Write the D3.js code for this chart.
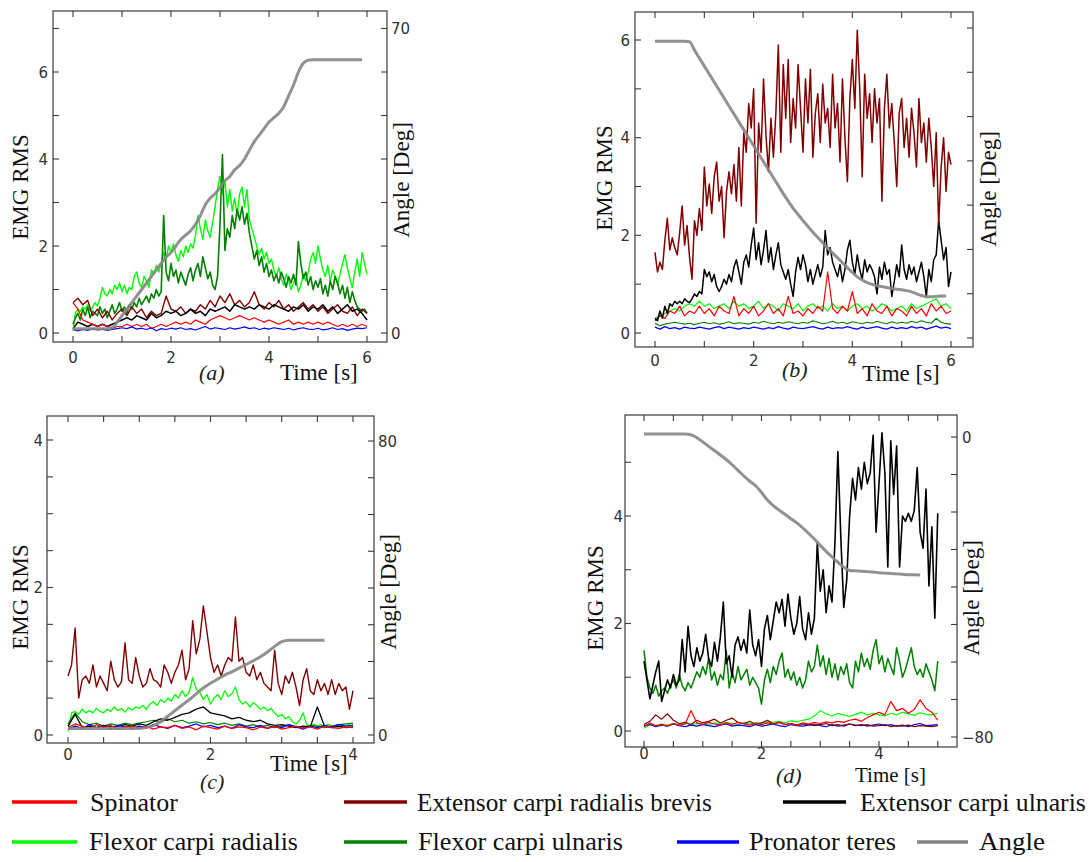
<!DOCTYPE html>
<html>
<head>
<meta charset="utf-8">
<script src="https://cdn.jsdelivr.net/npm/d3@7/dist/d3.min.js"></script>
<style>
  html, body { margin: 0; padding: 0; background: #fff; }
  svg { display: block; }
</style>
</head>
<body>
<svg id="chart" width="1091" height="862"></svg>
<script>
// Sampling intervals (seconds) of the RMS envelopes and of the joint angle
const fineStep = 0.05;
const coarseStep = 0.1;

// ---------- (a) ----------
const aFlexorRadialis = [
  0.05,0.45,0.55,0.50,0.60,0.55,0.65,0.50,0.60,0.70,
  0.62,0.80,1.05,0.90,0.85,1.00,0.90,1.10,1.00,1.15,
  0.95,1.10,0.90,1.05,1.00,1.30,1.40,1.15,1.05,1.30,
  1.20,1.05,1.45,1.35,1.55,1.40,1.60,1.85,1.70,2.00,
  1.85,2.05,1.80,1.65,1.90,1.75,2.00,1.85,2.05,1.95,
  2.25,2.70,2.40,2.15,2.60,2.35,2.20,2.55,2.90,3.30,
  3.60,3.20,3.50,2.90,3.30,2.80,3.10,2.70,3.20,3.35,
  2.90,3.30,2.60,2.40,2.20,2.00,1.80,1.95,1.70,1.85,
  1.60,1.70,1.45,1.30,1.50,1.25,1.10,1.35,1.20,1.00,
  1.15,1.25,0.95,1.10,1.35,1.20,1.40,1.70,1.85,1.60,
  2.00,1.70,1.45,1.30,1.55,1.20,1.45,1.30,1.10,1.35,
  1.60,1.80,1.50,1.25,1.05,1.40,1.70,1.30,1.85,1.60,
  1.35];
const aFlexorUlnaris = [
  0.20,0.35,0.45,0.30,0.55,0.40,0.60,0.35,0.50,0.45,
  0.40,0.60,0.45,0.55,0.35,0.50,0.65,0.45,0.55,0.70,
  0.50,0.60,0.45,0.65,0.55,0.70,0.60,0.80,0.65,0.75,
  0.85,0.70,0.90,0.80,1.00,0.85,0.95,2.70,1.40,1.20,
  1.60,1.30,1.45,1.15,1.40,1.25,1.10,1.35,1.50,1.20,
  1.45,1.60,1.30,1.75,1.50,1.25,1.40,1.10,1.00,1.30,
  2.50,4.10,1.90,2.40,2.20,2.70,2.40,2.85,2.60,2.90,
  2.50,2.75,2.30,2.00,1.70,1.90,1.55,1.75,1.40,1.60,
  1.30,1.45,1.20,1.35,1.15,1.40,1.25,1.05,1.30,1.15,
  1.35,1.10,2.10,1.60,1.25,1.40,1.10,1.30,1.00,1.20,
  1.05,1.25,0.90,1.10,0.85,1.20,1.00,1.30,1.15,0.90,
  1.10,0.80,1.05,0.70,0.95,0.75,0.60,0.55,0.50,0.55,
  0.45];
const aExtensorRadialis = [
  0.70,0.80,0.65,0.75,0.40,0.55,0.35,0.50,0.30,0.45,
  0.55,0.40,0.60,0.45,0.55,0.35,0.50,0.40,0.45,0.85,
  0.55,0.50,0.60,0.45,0.55,0.50,0.65,0.55,0.75,0.60,
  0.85,0.70,0.90,0.65,0.75,0.60,0.70,0.95,0.65,0.55,
  0.70,0.60,0.75,0.55,0.65,0.50,0.60,0.70,0.55,0.65,
  0.50,0.60,0.45,0.55,0.65,0.50,0.45,0.60,0.40,0.55,
  0.45];
const aExtensorUlnaris = [
  0.10,0.25,0.20,0.15,0.20,0.15,0.20,0.15,0.20,0.25,
  0.30,0.35,0.30,0.40,0.35,0.30,0.45,0.35,0.40,0.50,
  0.45,0.50,0.40,0.45,0.55,0.45,0.50,0.40,0.55,0.50,
  0.55,0.60,0.50,0.65,0.60,0.55,0.60,0.55,0.65,0.60,
  0.55,0.65,0.60,0.55,0.50,0.60,0.55,0.65,0.50,0.60,
  0.55,0.65,0.50,0.60,0.45,0.55,0.65,0.50,0.55,0.45,
  0.30];
const aSpinator = [
  0.70,0.55,0.30,0.25,0.20,0.15,0.20,0.15,0.10,0.15,
  0.15,0.20,0.15,0.20,0.15,0.20,0.10,0.15,0.20,0.15,
  0.20,0.25,0.20,0.25,0.20,0.30,0.25,0.20,0.30,0.35,
  0.40,0.35,0.30,0.35,0.40,0.35,0.30,0.35,0.30,0.25,
  0.30,0.25,0.20,0.25,0.30,0.20,0.25,0.20,0.25,0.20,
  0.25,0.20,0.25,0.20,0.15,0.20,0.15,0.20,0.15,0.20,
  0.15];
const aPronator = [
  0.08,0.05,0.08,0.06,0.10,0.07,0.09,0.06,0.08,0.10,
  0.12,0.10,0.14,0.09,0.11,0.08,0.12,0.05,0.10,0.08,
  0.11,0.09,0.12,0.08,0.10,0.07,0.11,0.15,0.09,0.12,
  0.10,0.08,0.12,0.09,0.11,0.14,0.10,0.12,0.08,0.11,
  0.09,0.12,0.10,0.08,0.11,0.07,0.10,0.12,0.09,0.08,
  0.11,0.07,0.09,0.12,0.08,0.10,0.06,0.09,0.11,0.10,
  0.12];
const aAngle = [
  1,1,1,1,1,1,1,1,1.2,2.5,
  4,5.5,7,8.5,10,11.5,13,14.5,16,17.5,
  18.5,20,21.5,22.5,23.5,25,27,29.5,31,32,
  33.5,35,36,37.5,38.5,40,42,44,45.5,47,
  48.5,49.5,50.5,52,54.5,57,60,62,62.7,62.8,
  62.8,62.8,62.8,62.8,62.8,62.8,62.8,62.8,62.8,62.8];

// ---------- (b) ----------
const bExtensorRadialis = [
  1.65,1.25,1.45,1.30,1.90,2.35,1.70,1.95,1.75,1.60,
  2.05,2.60,1.80,2.20,1.55,1.10,2.30,2.00,2.55,2.10,
  3.40,2.60,3.05,2.45,3.20,3.50,2.70,3.00,1.95,2.90,
  3.30,2.85,3.45,2.70,3.80,2.60,4.10,3.70,4.70,4.20,
  5.00,2.25,4.30,3.70,5.20,4.05,3.30,4.40,3.60,4.50,
  5.90,3.70,5.50,4.40,5.60,3.90,4.80,4.20,5.50,4.60,
  3.70,5.20,4.30,5.40,3.60,4.50,4.90,3.90,5.10,4.30,
  4.60,3.80,5.30,4.20,4.70,3.50,5.20,4.00,3.10,4.80,
  5.60,4.60,6.20,5.00,3.20,5.30,4.40,4.90,3.90,5.00,
  4.30,4.80,2.70,4.60,5.30,4.20,4.70,3.90,3.00,4.50,
  4.80,3.80,4.40,3.60,4.60,4.10,3.40,4.80,3.90,4.30,
  3.50,4.40,3.80,3.00,4.10,2.20,3.40,4.00,2.90,3.70,
  3.45];
const bExtensorUlnaris = [
  0.30,0.25,0.45,0.30,0.55,0.40,0.60,0.55,0.65,0.60,
  0.65,0.60,0.70,0.65,0.62,0.70,0.80,0.75,0.85,0.80,
  1.30,1.15,1.25,1.05,1.20,0.95,0.85,0.95,1.10,1.00,
  1.20,1.05,1.35,1.50,1.25,1.00,1.45,1.60,1.35,1.80,
  2.15,1.50,1.85,1.40,1.70,2.10,1.45,1.75,1.30,1.60,
  1.85,1.40,1.25,1.10,1.30,1.00,0.75,1.25,1.55,1.30,
  1.60,1.40,1.05,1.30,1.00,1.20,1.40,1.15,1.35,2.10,
  1.60,1.75,1.45,1.30,1.15,1.40,1.05,1.30,1.70,1.90,
  1.45,1.20,1.60,1.30,1.10,1.50,1.25,1.40,1.30,1.15,
  0.80,1.35,1.10,1.45,1.20,1.30,0.75,1.05,1.40,1.15,
  1.80,1.30,1.10,1.40,1.20,1.35,1.05,1.25,1.45,1.15,
  0.75,1.30,1.05,1.50,1.60,2.30,1.90,1.50,1.75,0.95,
  1.25];
const bSpinator = [
  0.25,0.35,0.30,0.45,0.40,0.55,0.35,0.45,0.40,0.55,
  0.40,0.50,0.35,0.55,0.45,0.40,0.75,0.35,0.50,0.40,
  0.55,0.35,0.45,0.60,0.40,0.50,0.35,0.75,0.40,0.45,
  0.35,0.50,0.40,0.55,0.45,1.25,0.50,0.40,0.55,0.45,
  0.85,0.40,0.50,0.35,0.60,0.45,0.40,0.55,0.35,0.50,
  0.45,0.35,0.55,0.40,0.50,0.35,0.60,0.45,0.55,0.40,
  0.45];
const bFlexorRadialis = [
  0.30,0.35,0.40,0.45,0.50,0.45,0.55,0.60,0.55,0.65,
  0.55,0.60,0.50,0.55,0.60,0.50,0.65,0.55,0.60,0.50,
  0.55,0.65,0.50,0.60,0.55,0.45,0.60,0.55,0.50,0.60,
  0.45,0.55,0.60,0.50,0.55,0.45,0.60,0.50,0.55,0.45,
  0.55,0.60,0.50,0.55,0.45,0.50,0.60,0.55,0.45,0.50,
  0.55,0.45,0.60,0.50,0.55,0.60,0.65,0.70,0.55,0.60,
  0.50];
const bFlexorUlnaris = [
  0.20,0.15,0.18,0.20,0.22,0.20,0.18,0.20,0.17,0.20,
  0.22,0.19,0.21,0.18,0.20,0.23,0.19,0.21,0.20,0.18,
  0.22,0.20,0.24,0.21,0.19,0.22,0.20,0.23,0.21,0.19,
  0.22,0.20,0.25,0.22,0.19,0.21,0.24,0.20,0.22,0.19,
  0.23,0.21,0.19,0.22,0.20,0.24,0.21,0.19,0.23,0.20,
  0.22,0.20,0.24,0.21,0.25,0.22,0.20,0.30,0.22,0.19,
  0.18];
const bPronator = [
  0.12,0.08,0.13,0.09,0.11,0.08,0.12,0.10,0.09,0.12,
  0.10,0.08,0.11,0.13,0.09,0.12,0.10,0.08,0.11,0.09,
  0.12,0.10,0.08,0.11,0.09,0.13,0.10,0.08,0.12,0.10,
  0.09,0.11,0.13,0.10,0.08,0.12,0.09,0.11,0.10,0.13,
  0.10,0.08,0.12,0.09,0.11,0.13,0.10,0.08,0.12,0.09,
  0.11,0.09,0.13,0.10,0.12,0.08,0.11,0.14,0.10,0.12,
  0.09];
const bAngle = [
  67,67,67,67,67,67,67,66.9,65,63.2,
  61.4,59.6,57.8,56,54.2,52.4,50.6,48.8,47,45.2,
  43.4,41.6,39.8,38,36.2,34.4,32.6,30.9,29.3,27.9,
  26.5,25.2,23.9,22.7,21.5,20.3,19.2,18.1,17,15.9,
  14.8,13.8,13.1,12.5,12.1,11.8,11.6,11.4,11.2,11,
  10.9,10.7,10.4,10,9.6,9.3,9.3,9.4,9.5,9.5];

// ---------- (c) ----------
const cExtensorRadialis = [
  0.80,0.95,1.45,0.50,0.75,0.80,0.70,0.95,0.65,0.80,
  0.70,0.60,1.00,0.75,0.65,0.72,1.25,0.75,0.70,1.05,
  0.80,0.65,0.70,0.90,0.75,0.72,0.65,0.95,0.85,0.70,
  0.85,0.95,1.15,0.75,0.90,1.55,1.10,1.30,1.75,1.40,
  1.05,0.85,0.95,0.80,0.95,1.05,1.00,1.60,1.00,1.05,
  0.85,0.80,0.95,0.75,0.85,0.70,0.65,0.60,1.15,0.70,
  0.55,0.80,0.70,0.85,0.65,0.40,0.75,0.90,0.60,0.55,
  0.75,0.60,0.70,0.55,0.75,0.55,0.70,0.60,0.65,0.35,
  0.60];
const cFlexorRadialis = [
  0.05,0.30,0.32,0.28,0.35,0.30,0.33,0.30,0.36,0.32,
  0.30,0.35,0.32,0.38,0.33,0.36,0.31,0.37,0.34,0.38,
  0.36,0.40,0.35,0.42,0.45,0.40,0.48,0.44,0.50,0.46,
  0.55,0.50,0.60,0.52,0.58,0.78,0.62,0.58,0.48,0.55,
  0.42,0.50,0.55,0.48,0.60,0.52,0.56,0.65,0.48,0.42,
  0.45,0.38,0.44,0.40,0.35,0.38,0.33,0.36,0.30,0.25,
  0.28,0.22,0.25,0.18,0.15,0.20,0.30,0.14,0.12,0.15,
  0.12,0.14,0.11,0.15,0.12,0.13,0.10,0.14,0.12,0.15,
  0.15];
const cExtensorUlnaris = [
  0.12,0.28,0.10,0.12,0.10,0.13,0.11,0.12,0.14,0.12,
  0.15,0.13,0.18,0.22,0.20,0.24,0.28,0.30,0.35,0.38,
  0.30,0.28,0.26,0.22,0.24,0.20,0.18,0.20,0.15,0.13,
  0.14,0.12,0.10,0.12,0.11,0.38,0.12,0.10,0.12,0.10,
  0.11];
const cFlexorUlnaris = [
  0.15,0.30,0.18,0.14,0.16,0.12,0.15,0.13,0.16,0.14,
  0.16,0.18,0.20,0.17,0.22,0.18,0.20,0.16,0.18,0.15,
  0.17,0.14,0.16,0.13,0.15,0.12,0.14,0.11,0.13,0.10,
  0.12,0.14,0.11,0.10,0.13,0.12,0.10,0.12,0.14,0.15,
  0.16];
const cSpinator = [
  0.10,0.15,0.12,0.09,0.14,0.10,0.13,0.08,0.11,0.12,
  0.09,0.12,0.08,0.11,0.10,0.13,0.09,0.11,0.07,0.12,
  0.10,0.08,0.12,0.09,0.11,0.10,0.07,0.11,0.09,0.12,
  0.08,0.10,0.12,0.09,0.11,0.08,0.12,0.10,0.09,0.11,
  0.10];
const cPronator = [
  0.08,0.12,0.09,0.14,0.10,0.12,0.08,0.13,0.11,0.09,
  0.12,0.10,0.14,0.11,0.09,0.13,0.10,0.12,0.15,0.11,
  0.13,0.10,0.12,0.09,0.14,0.11,0.10,0.13,0.09,0.12,
  0.10,0.14,0.11,0.08,0.12,0.10,0.13,0.11,0.14,0.12,
  0.13];
const cAngle = [
  1.8,1.8,1.8,1.8,1.8,1.8,1.8,1.8,1.8,1.8,
  1.8,2.0,2.6,3.7,5.1,6.6,8.1,9.6,11.2,12.8,
  14.1,15.2,16.3,17.2,18.2,19.2,20.2,21.3,22.6,24.1,
  25.4,25.8,25.8,25.8,25.8,25.8,25.8];

// ---------- (d) ----------
const dExtensorUlnaris = [
  1.30,0.95,0.60,0.85,1.10,1.30,0.55,0.75,0.95,0.80,
  1.05,0.85,0.95,1.70,1.10,1.95,1.40,1.20,1.55,1.30,
  1.45,1.80,1.35,1.20,1.65,1.30,1.75,2.40,1.25,1.40,
  1.00,1.60,1.75,1.50,1.70,1.45,2.25,1.60,1.40,1.70,
  1.20,1.90,2.15,1.70,2.05,2.40,2.20,2.45,1.95,2.55,
  2.10,1.80,2.00,2.50,1.90,1.70,2.20,1.80,2.10,3.50,
  2.60,3.00,2.20,2.70,2.40,3.50,5.20,3.60,2.30,2.80,
  4.00,4.70,4.30,4.90,4.50,5.00,4.60,4.80,5.50,3.70,
  4.60,5.55,4.80,3.05,5.40,4.40,5.30,3.05,4.00,3.90,
  4.05,3.90,4.10,4.90,3.70,3.40,4.50,2.70,3.80,2.10,
  4.05];
const dFlexorUlnaris = [
  1.50,1.00,0.80,0.70,0.85,0.65,0.75,0.80,0.70,0.85,
  0.95,0.80,1.05,0.85,0.75,0.90,0.80,0.95,1.10,1.00,
  1.20,1.05,1.35,0.95,1.10,0.85,1.05,0.95,1.50,0.80,
  1.10,0.90,1.20,0.95,1.05,1.15,0.85,1.00,0.90,0.80,
  0.50,0.95,1.15,0.90,1.20,1.05,1.30,1.45,1.00,1.15,
  0.95,1.10,0.85,1.00,0.80,0.95,1.30,1.10,1.20,1.60,
  1.20,1.40,1.05,1.35,1.00,1.25,0.95,1.20,1.05,1.25,
  0.90,0.80,1.30,1.10,1.45,1.20,1.35,1.15,1.50,1.70,
  1.25,1.40,1.10,1.35,1.20,1.05,1.55,1.30,1.00,1.15,
  1.35,1.55,1.20,1.05,1.15,1.00,1.25,1.10,0.95,0.75,
  1.30];
const dFlexorRadialis = [
  0.05,0.12,0.10,0.13,0.11,0.14,0.12,0.15,0.12,0.14,
  0.13,0.12,0.15,0.13,0.16,0.14,0.12,0.15,0.13,0.16,
  0.14,0.17,0.16,0.18,0.15,0.19,0.17,0.20,0.22,0.28,
  0.38,0.32,0.28,0.33,0.30,0.27,0.31,0.35,0.30,0.33,
  0.30,0.28,0.33,0.30,0.35,0.32,0.29,0.34,0.31,0.30,
  0.33];
const dSpinator = [
  0.08,0.15,0.10,0.12,0.09,0.14,0.11,0.13,0.38,0.15,
  0.12,0.16,0.13,0.11,0.15,0.12,0.16,0.13,0.11,0.14,
  0.12,0.15,0.13,0.16,0.12,0.14,0.11,0.15,0.13,0.16,
  0.14,0.17,0.15,0.18,0.16,0.20,0.22,0.18,0.25,0.30,
  0.35,0.30,0.55,0.38,0.42,0.33,0.40,0.58,0.42,0.35,
  0.20];
const dExtensorRadialis = [
  0.12,0.18,0.30,0.22,0.32,0.20,0.14,0.16,0.12,0.20,
  0.15,0.18,0.22,0.15,0.20,0.24,0.16,0.14,0.18,0.12,
  0.15,0.20,0.13,0.16,0.12,0.14,0.11,0.13,0.12,0.10,
  0.12,0.14,0.10,0.12,0.09,0.13,0.11,0.10,0.12,0.09,
  0.10,0.12,0.08,0.10,0.09,0.11,0.08,0.10,0.09,0.08,
  0.10];
const dPronator = [
  0.10,0.12,0.08,0.11,0.09,0.13,0.10,0.08,0.11,0.09,
  0.12,0.10,0.08,0.11,0.13,0.09,0.11,0.10,0.08,0.12,
  0.09,0.11,0.13,0.10,0.08,0.12,0.10,0.09,0.11,0.13,
  0.10,0.08,0.12,0.09,0.11,0.13,0.10,0.12,0.09,0.11,
  0.13,0.10,0.12,0.09,0.11,0.08,0.12,0.14,0.10,0.11,
  0.12];
const dAngle = [
  0.8,0.8,0.8,0.8,0.8,0.8,0.8,0.8,0.6,-0.2,
  -1.3,-2.5,-3.6,-4.8,-6.0,-7.4,-8.9,-10.4,-11.8,-13.0,
  -14.8,-16.8,-18.3,-19.5,-20.6,-21.8,-22.9,-24.2,-25.7,-27.2,
  -28.9,-30.5,-32.0,-33.4,-34.7,-35.6,-35.7,-35.8,-35.9,-36.0,
  -36.2,-36.3,-36.4,-36.5,-36.6,-36.7,-36.7,-36.8];

// Legend
const muscleNames = {
  spinator: "Spinator",
  ecrb: "Extensor carpi radialis brevis",
  ecu: "Extensor carpi ulnaris",
  fcr: "Flexor carpi radialis",
  fcu: "Flexor carpi ulnaris",
  pt: "Pronator teres",
  angle: "Angle"
};
const colors = {
  spinator: "#ff0000",
  ecrb: "#800000",
  ecu: "#000000",
  fcr: "#00ff00",
  fcu: "#008000",
  pt: "#0000ff",
  angle: "#858585"
};

const panelLetters = ["(a)", "(b)", "(c)", "(d)"];

// ---------- helpers ----------
const svg = d3.select("#chart");
const sans = "'DejaVu Sans', Verdana, sans-serif";
const serif = "'Liberation Serif', 'Times New Roman', serif";

function series(values, step) {
  return values.map((v, i) => ({ t: i * step, v }));
}

// soft edge for the angle curve
const defs = svg.append("defs");
defs.append("filter").attr("id", "soft").attr("x", "-5%").attr("y", "-5%")
  .attr("width", "110%").attr("height", "110%")
  .append("feGaussianBlur").attr("stdDeviation", 0.5);

function drawPanel(p, idx) {
  const g = svg.append("g");
  const x = d3.scaleLinear().domain(p.xDomain).range(p.xRange);
  const y = d3.scaleLinear().domain(p.yDomain).range(p.yRange);
  const ya = d3.scaleLinear().domain(p.aDomain).range(p.aRange);
  const f = p.frame;

  const clipId = "clip" + idx;
  defs.append("clipPath").attr("id", clipId)
    .append("rect").attr("x", f.x0).attr("y", f.y0)
    .attr("width", f.x1 - f.x0).attr("height", f.y1 - f.y0);

  const plot = g.append("g").attr("clip-path", `url(#${clipId})`);
  const emgLine = d3.line().x(d => x(d.t)).y(d => y(d.v));
  p.traces.forEach(tr => {
    plot.append("path")
      .datum(series(tr.values, tr.step))
      .attr("d", emgLine)
      .attr("fill", "none")
      .attr("stroke", colors[tr.key])
      .attr("stroke-width", tr.width)
      .attr("stroke-linejoin", "round");
  });
  const angLine = d3.line().x(d => x(d.t)).y(d => ya(d.v)).curve(d3.curveMonotoneX);
  plot.append("path")
    .datum(series(p.angle, coarseStep))
    .attr("d", angLine)
    .attr("fill", "none")
    .attr("stroke", colors.angle)
    .attr("stroke-width", 3)
    .attr("stroke-opacity", 0.9)
    .attr("filter", "url(#soft)");

  // frame
  g.append("rect").attr("x", f.x0).attr("y", f.y0)
    .attr("width", f.x1 - f.x0).attr("height", f.y1 - f.y0)
    .attr("fill", "none").attr("stroke", "#3a3a3a").attr("stroke-width", 1.2);

  const tl = 6;
  const tick = (x1, y1, x2, y2) => g.append("line")
    .attr("x1", x1).attr("y1", y1).attr("x2", x2).attr("y2", y2)
    .attr("stroke", "#3a3a3a").attr("stroke-width", 1.1);

  p.xTicks.forEach(t => { tick(x(t), f.y1, x(t), f.y1 - tl); tick(x(t), f.y0, x(t), f.y0 + tl); });
  p.yTicks.forEach(t => tick(f.x0, y(t), f.x0 + tl, y(t)));
  p.aTicks.forEach(t => tick(f.x1, ya(t), f.x1 - tl, ya(t)));

  const lab = (txt, px, py, anchor) => g.append("text")
    .attr("x", px).attr("y", py).attr("text-anchor", anchor)
    .attr("font-family", sans).attr("font-size", 15).attr("fill", "#333")
    .text(txt);
  p.xLabels.forEach(t => lab(d3.format("d")(t), x(t), p.xLabelY, "middle"));
  p.yLabels.forEach(t => lab(d3.format("d")(t), p.yLabelX, y(t) + 5.5, "end"));
  p.aLabels.forEach(t => lab(d3.format("d")(t), p.aLabelX, ya(t) + 5.5, "start"));

  const title = (txt, px, py) => g.append("text")
    .attr("transform", `translate(${px},${py}) rotate(-90)`)
    .attr("text-anchor", "middle")
    .attr("font-family", serif).attr("font-size", 23).attr("fill", "#111")
    .text(txt);
  title("EMG RMS", p.emgTitle[0], p.emgTitle[1]);
  title("Angle [Deg]", p.angTitle[0], p.angTitle[1]);

  g.append("text").attr("x", p.timeTitle[0]).attr("y", p.timeTitle[1])
    .attr("font-family", serif).attr("font-size", p.timeSize).attr("fill", "#111")
    .text("Time [s]");
  g.append("text").attr("x", p.letterPos[0]).attr("y", p.letterPos[1])
    .attr("font-family", serif).attr("font-style", "italic")
    .attr("font-size", 22).attr("fill", "#222")
    .text(panelLetters[idx]);
}

const range = (a, b, s) => d3.range(a, b + s / 2, s);

const panels = [
  {
    frame: { x0: 53, x1: 387, y0: 11, y1: 342 },
    xDomain: [0, 6], xRange: [73, 367],
    yDomain: [0, 6], yRange: [333, 72],
    aDomain: [0, 70], aRange: [333, 28.5],
    xTicks: range(0, 6, 1), yTicks: range(0, 7, 1), aTicks: range(0, 70, 10),
    xLabels: [0, 2, 4, 6], yLabels: [0, 2, 4, 6], aLabels: [0, 70],
    xLabelY: 363, yLabelX: 48, aLabelX: 391,
    emgTitle: [28, 187], angTitle: [409, 180], timeTitle: [280, 380], timeSize: 23, letterPos: [199, 380],
    traces: [
      { key: "fcr", values: aFlexorRadialis, step: fineStep, width: 1.4 },
      { key: "fcu", values: aFlexorUlnaris, step: fineStep, width: 1.6 },
      { key: "ecrb", values: aExtensorRadialis, step: coarseStep, width: 1.4 },
      { key: "ecu", values: aExtensorUlnaris, step: coarseStep, width: 1.5 },
      { key: "spinator", values: aSpinator, step: coarseStep, width: 1.2 },
      { key: "pt", values: aPronator, step: coarseStep, width: 1.2 }
    ],
    angle: aAngle
  },
  {
    frame: { x0: 635, x1: 973, y0: 12, y1: 347 },
    xDomain: [0, 6], xRange: [655, 951],
    yDomain: [0, 6], yRange: [333, 40],
    aDomain: [0, 70], aRange: [338, 28],
    xTicks: range(0, 6, 1), yTicks: range(0, 6, 1), aTicks: range(0, 70, 10),
    xLabels: [0, 2, 4, 6], yLabels: [0, 2, 4, 6], aLabels: [],
    xLabelY: 366, yLabelX: 630, aLabelX: 977,
    emgTitle: [612, 178], angTitle: [996, 189], timeTitle: [862, 381], timeSize: 23, letterPos: [782, 377],
    traces: [
      { key: "fcu", values: bFlexorUlnaris, step: coarseStep, width: 1.2 },
      { key: "fcr", values: bFlexorRadialis, step: coarseStep, width: 1.2 },
      { key: "spinator", values: bSpinator, step: coarseStep, width: 1.2 },
      { key: "pt", values: bPronator, step: coarseStep, width: 1.2 },
      { key: "ecu", values: bExtensorUlnaris, step: fineStep, width: 1.5 },
      { key: "ecrb", values: bExtensorRadialis, step: fineStep, width: 1.5 }
    ],
    angle: bAngle
  },
  {
    frame: { x0: 47, x1: 374, y0: 416, y1: 743 },
    xDomain: [0, 4], xRange: [68, 353],
    yDomain: [0, 4], yRange: [735, 440],
    aDomain: [0, 80], aRange: [735, 441],
    xTicks: range(0, 4, 0.5), yTicks: range(0, 4, 0.5), aTicks: range(0, 80, 10),
    xLabels: [0, 2, 4], yLabels: [0, 2, 4], aLabels: [0, 80],
    xLabelY: 760, yLabelX: 43, aLabelX: 378,
    emgTitle: [28, 597], angTitle: [396, 592], timeTitle: [270, 771], timeSize: 23, letterPos: [200, 789],
    traces: [
      { key: "fcr", values: cFlexorRadialis, step: fineStep, width: 1.3 },
      { key: "fcu", values: cFlexorUlnaris, step: coarseStep, width: 1.2 },
      { key: "ecu", values: cExtensorUlnaris, step: coarseStep, width: 1.3 },
      { key: "pt", values: cPronator, step: coarseStep, width: 1.2 },
      { key: "spinator", values: cSpinator, step: coarseStep, width: 1.2 },
      { key: "ecrb", values: cExtensorRadialis, step: fineStep, width: 1.4 }
    ],
    angle: cAngle
  },
  {
    frame: { x0: 625, x1: 957, y0: 415, y1: 747 },
    xDomain: [0, 4], xRange: [644, 879],
    yDomain: [0, 4], yRange: [731, 516],
    aDomain: [-80, 0], aRange: [737, 437],
    xTicks: range(0, 5, 0.5), yTicks: range(0, 5, 1), aTicks: range(-80, 0, 10),
    xLabels: [0, 2, 4], yLabels: [0, 2, 4], aLabels: [0, -80],
    xLabelY: 759, yLabelX: 623, aLabelX: 962,
    emgTitle: [603, 598], angTitle: [979, 598], timeTitle: [855, 782.3], timeSize: 21, letterPos: [776, 783],
    traces: [
      { key: "fcu", values: dFlexorUlnaris, step: fineStep, width: 1.5 },
      { key: "ecu", values: dExtensorUlnaris, step: fineStep, width: 1.6 },
      { key: "fcr", values: dFlexorRadialis, step: coarseStep, width: 1.2 },
      { key: "pt", values: dPronator, step: coarseStep, width: 1.2 },
      { key: "ecrb", values: dExtensorRadialis, step: coarseStep, width: 1.2 },
      { key: "spinator", values: dSpinator, step: coarseStep, width: 1.2 }
    ],
    angle: dAngle
  }
];

panels.forEach(drawPanel);

// ---------- legend ----------
// Text is drawn at its natural size, then squeezed horizontally to its slot width.
const legendItems = [
  { key: "spinator", x1: 12, x2: 77, ly: 802, tx: 90, ty: 811, w: 88 },
  { key: "ecrb", x1: 344, x2: 407, ly: 802, tx: 417, ty: 811, w: 295 },
  { key: "ecu", x1: 783, x2: 846, ly: 802, tx: 860, ty: 811, w: 226 },
  { key: "fcr", x1: 12, x2: 77, ly: 842, tx: 89, ty: 850, w: 209 },
  { key: "fcu", x1: 344, x2: 407, ly: 842, tx: 418, ty: 850, w: 205 },
  { key: "pt", x1: 677, x2: 739, ly: 842, tx: 749, ty: 850, w: 147 },
  { key: "angle", x1: 917, x2: 968, ly: 842, tx: 979, ty: 850, w: 66 }
];
const leg = svg.append("g");
legendItems.forEach(it => {
  leg.append("line").attr("x1", it.x1).attr("x2", it.x2)
    .attr("y1", it.ly).attr("y2", it.ly)
    .attr("stroke", colors[it.key]).attr("stroke-width", 3.5);
  const txt = leg.append("text").attr("x", 0).attr("y", 0)
    .attr("font-family", serif).attr("font-size", 26).attr("fill", "#111")
    .text(muscleNames[it.key]);
  const natural = txt.node().getComputedTextLength() || it.w;
  txt.attr("transform", `translate(${it.tx},${it.ty}) scale(${it.w / natural},1)`);
});
</script>
</body>
</html>
